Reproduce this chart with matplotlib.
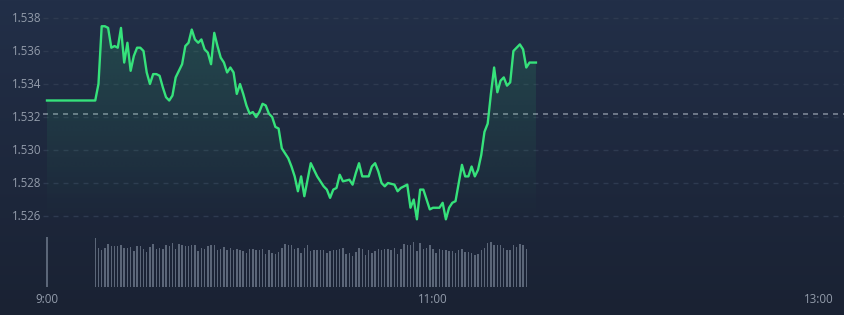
import numpy as np
import matplotlib
matplotlib.use("Agg")
import matplotlib.pyplot as plt
from matplotlib.colors import LinearSegmentedColormap, to_rgb

plt.rcParams['font.family'] = ['Open Sans', 'DejaVu Sans']
plt.rcParams['lines.scale_dashes'] = False

# ---------------- data ----------------
# price: minutes after 9:00 and price
price_min = [0, 15, 16, 17, 18, 19, 20, 21, 22, 23, 24, 25, 26, 27, 28, 29, 30, 31, 32, 33,
             34, 35, 36, 37, 38, 39, 40, 42, 43, 44, 45, 46, 47, 48, 49, 50, 51, 52, 53, 54,
             55, 56, 57, 58, 59, 60, 61, 62, 63, 64, 65, 66, 67, 68, 69, 70, 71, 72, 73, 74,
             75, 76, 77, 78, 79, 80, 81, 82, 83, 84, 86, 87, 88, 89, 90, 91, 92, 94, 95, 96,
             97, 98, 100, 101, 102, 103, 104, 105, 106, 108, 109, 110, 111, 112, 113, 114, 115,
             116, 117, 118, 119, 120, 121, 122, 123, 124, 125, 126, 127, 128, 129, 130, 131,
             132, 133, 134, 135, 136, 137, 138, 139, 140, 141, 142, 143, 144, 145, 146, 147,
             148, 149, 150, 152]
price_val = [1.5330, 1.5330, 1.5340, 1.5375, 1.5375, 1.5374, 1.5362, 1.5363, 1.5362, 1.5374,
             1.5353, 1.5365, 1.5348, 1.5357, 1.5362, 1.5362, 1.5360, 1.5347, 1.5340, 1.5346,
             1.5346, 1.5345, 1.5338, 1.5332, 1.5330, 1.5333, 1.5344, 1.5352, 1.5363, 1.5365,
             1.5373, 1.5367, 1.5365, 1.5367, 1.5361, 1.5359, 1.5352, 1.5371, 1.5363, 1.5356,
             1.5353, 1.5347, 1.5350, 1.5347, 1.5334, 1.5340, 1.5334, 1.5327, 1.5322, 1.5323,
             1.5320, 1.5323, 1.5328, 1.5327, 1.5322, 1.5320, 1.5314, 1.5313, 1.5301, 1.5298,
             1.5295, 1.5290, 1.5284, 1.5275, 1.5284, 1.5272, 1.5282, 1.5292, 1.5288, 1.5284,
             1.5278, 1.5276, 1.5271, 1.5276, 1.5277, 1.5285, 1.5281, 1.5282, 1.5279, 1.5286,
             1.5292, 1.5284, 1.5284, 1.5290, 1.5292, 1.5287, 1.5280, 1.5278, 1.5280, 1.5279,
             1.5275, 1.5277, 1.5278, 1.5279, 1.5265, 1.5270, 1.5258, 1.5276, 1.5276, 1.5270,
             1.5264, 1.5265, 1.5265, 1.5265, 1.5268, 1.5258, 1.5265, 1.5268, 1.5269, 1.5280,
             1.5291, 1.5284, 1.5284, 1.5290, 1.5284, 1.5288, 1.5297, 1.5311, 1.5316, 1.5334,
             1.5350, 1.5335, 1.5342, 1.5344, 1.5339, 1.5341, 1.5360, 1.5362, 1.5364, 1.5361,
             1.5350, 1.5353, 1.5353]

prev_close = 1.5322

# volume: one bar at the open, then one per minute from 9:15
vol_open_min = 0
vol_open = 149
vol_start_min = 15
vol_values = [148, 118, 112, 118, 130, 122, 122, 122, 125, 118, 118, 121, 108, 122, 122, 115,
              106, 120, 128, 115, 118, 115, 125, 122, 132, 115, 128, 125, 122, 122, 127, 127,
              108, 118, 115, 122, 125, 125, 110, 115, 121, 112, 118, 112, 115, 112,
              107, 103, 115, 115, 112, 112, 115, 100, 112, 103, 100, 105, 118, 128, 125, 125,
              115, 118, 103, 118, 127, 108, 112, 112, 112, 112, 103, 108, 112, 112, 115, 118,
              100, 103, 93, 106, 118, 115, 97, 112, 103, 108, 115, 112, 115, 115,
              112, 118, 100, 115, 130, 125, 127, 135, 108, 133, 115, 118, 125, 115, 102, 115,
              110, 112, 108, 108, 103, 112, 115, 105, 105, 102, 95, 98, 112, 118, 132, 135,
              127, 125, 125, 118, 112, 112, 125, 120, 130, 127, 115]

y_ticks = [1.526, 1.528, 1.530, 1.532, 1.534, 1.536, 1.538]
x_tick_min = [0, 120, 240]
x_tick_labels = ["9:00", "11:00", "13:00"]

# ---------------- styling ----------------
W, H, DPI = 844, 315, 100
px_per_min = 3.2167
x0_px = 47
xlim = (-x0_px / px_per_min, (W - x0_px) / px_per_min)
ylim_price = (1.5200, 1.539091)
vol_ylim = (-84, 861)

bg_top, bg_bot = '#222f48', '#1a2233'
line_col = '#36e27b'
grid_col = '#2e3a50'
ref_col = '#8f99a8'
label_col = '#939cab'
vol_col = '#5b6678'

fig = plt.figure(figsize=(W / DPI, H / DPI), dpi=DPI)

# background gradient
bg = fig.add_axes([0, 0, 1, 1])
bg.set_axis_off()
cmap_bg = LinearSegmentedColormap.from_list('bg', [bg_top, bg_bot])
bg.imshow(np.linspace(0, 1, 256).reshape(-1, 1), aspect='auto', cmap=cmap_bg,
          extent=(0, 1, 0, 1), origin='upper')
bg.set_xlim(0, 1); bg.set_ylim(0, 1)

# price axes
ax = fig.add_axes([0, 0, 1, 1])
ax.set_facecolor('none')
ax.set_axis_off()
ax.set_xlim(*xlim)
ax.set_ylim(*ylim_price)

grid_x0 = (43 - x0_px) / px_per_min
for yv in y_ticks:
    ax.plot([grid_x0, xlim[1]], [yv, yv], color=grid_col, lw=1.0,
            linestyle=(0, (3.6, 3.6)), zorder=1)
ax.plot([grid_x0, xlim[1]], [prev_close, prev_close], color=ref_col, lw=1.1,
        linestyle=(0, (3.6, 3.6)), zorder=2, alpha=0.9)

xs = np.array(price_min, dtype=float)
ys = np.array(price_val)
fill_bottom = 1.5255
poly = ax.fill_between(xs, ys, fill_bottom, color='none', lw=0)
g = np.zeros((256, 1, 4))
r, gg, b = to_rgb(line_col)
g[..., 0], g[..., 1], g[..., 2] = r, gg, b
g[:, 0, 3] = np.linspace(0.15, 0.0, 256)
im = ax.imshow(g, aspect='auto', extent=(xs[0], xs[-1], fill_bottom, ys.max()),
               origin='upper', zorder=3, interpolation='bilinear')
im.set_clip_path(poly.get_paths()[0], transform=ax.transData)
ax.set_xlim(*xlim)
ax.set_ylim(*ylim_price)

ax.plot(xs, ys, color=line_col, lw=1.7, zorder=5, solid_joinstyle='round')

for yv in y_ticks:
    ax.annotate(f"{yv:.3f}", xy=(12, yv), xycoords=('figure pixels', 'data'),
                ha='left', va='center', fontsize=8.3, color=label_col)
for xm, lab in zip(x_tick_min, x_tick_labels):
    ax.annotate(lab, xy=(xm, H - 299.5), xycoords=('data', 'figure pixels'),
                ha='center', va='center', fontsize=8.3, color=label_col)

# volume axes
vax = fig.add_axes([0, 0, 1, 1])
vax.set_facecolor('none')
vax.set_axis_off()
vax.set_xlim(*xlim)
vax.set_ylim(*vol_ylim)
vmins = np.arange(vol_start_min, vol_start_min + len(vol_values))
vax.bar([vol_open_min], [vol_open], width=0.45, color=vol_col, lw=0)
vax.bar(vmins, vol_values, width=0.45, color=vol_col, lw=0)

fig.savefig('out.png', dpi=DPI)
